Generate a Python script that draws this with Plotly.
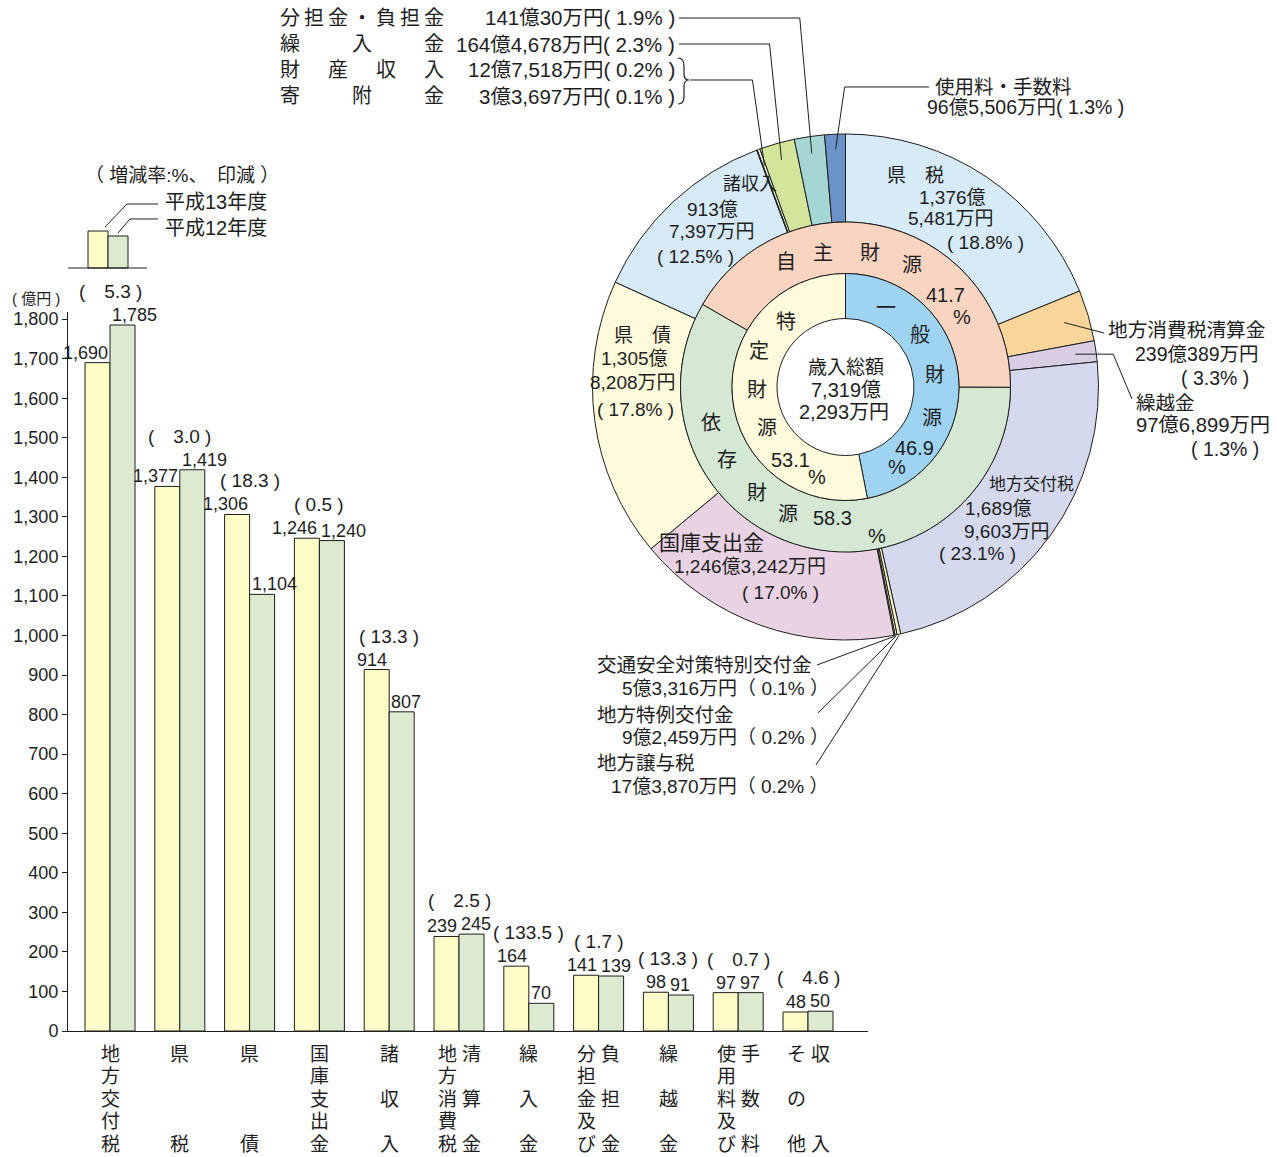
import math
import plotly.graph_objects as go

W, H = 1277, 1157

# ---------------- bar chart data ----------------
categories = ['地方交付税', '県税', '県債', '国庫支出金', '諸収入', '地方消費税清算金',
              '繰入金', '分担金及び負担金', '繰越金', '使用料及び手数料', 'その他収入']
values_h13 = [1690, 1377, 1306, 1246, 914, 239, 164, 141, 98, 97, 48]
values_h12 = [1785, 1419, 1104, 1240, 807, 245, 70, 139, 91, 97, 50]
labels_h13 = ['1,690', '1,377', '1,306', '1,246', '914', '239', '164', '141', '98', '97', '48']
labels_h12 = ['1,785', '1,419', '1,104', '1,240', '807', '245', '70', '139', '91', '97', '50']
change_rates = ['(　5.3 )', '(　3.0 )', '( 18.3 )', '( 0.5 )', '( 13.3 )', '(　2.5 )',
                '( 133.5 )', '( 1.7 )', '( 13.3 )', '(　0.7 )', '(　4.6 )']
category_columns = [
    ['地方交付税'], ['県　　　税'], ['県　　　債'], ['国庫支出金'], ['諸　収　入'],
    ['地方消費税', '清　算　金'], ['繰　入　金'], ['分担金及び', '負　担　金'],
    ['繰　越　金'], ['使用料及び', '手　数　料'], ['そ　の　他', '収　　　入'],
]
y_ticks = list(range(0, 1801, 100))
y_tick_labels = [f'{v:,}' for v in y_ticks]
series_names = ['平成13年度', '平成12年度']

# ---------------- donut data (万円) ----------------
revenue_items = ['県税', '地方消費税清算金', '繰越金', '地方交付税', '地方譲与税', '地方特例交付金',
                 '交通安全対策特別交付金', '国庫支出金', '県債', '諸収入', '寄附金', '財産収入',
                 '繰入金', '分担金・負担金', '使用料・手数料']
revenue_amounts = [13765481, 2390389, 976899, 16899603, 173870, 92459, 53316, 12463242,
                   13058208, 9137397, 33697, 127518, 1644678, 1410030, 965506]
source_groups = ['自主財源', '依存財源']
source_shares = [41.7, 58.3]
usage_groups = ['一般財源', '特定財源']
usage_shares = [46.9, 53.1]

# ---------------- styles ----------------
revenue_colors = ['#d6eaf8', '#f8d69b', '#d8cde3', '#d4d9ee', '#f7f1c8', '#fbf5cf', '#f2efd2',
                  '#e9d2e4', '#fefbdd', '#d6eaf8', '#e9f0d9', '#e9f0d9', '#d3e49b', '#a5d6d4', '#6c93c8']
source_colors = ['#f9d5c1', '#d4e8d4']
usage_colors = ['#9fd3f2', '#fefadb']
YELLOW, GREEN = '#fdfbc6', '#dcebd0'
INK = '#1e1e1e'
FONT = 'Liberation Sans, Noto Sans CJK JP, sans-serif'
NARROW = 'Liberation Sans Narrow, Liberation Sans, Noto Sans CJK JP, sans-serif'


def px(x):
    return x / W


def py(y):
    return 1 - y / H


anns = []
shapes = []


def txt(s, x, y, size=19, anchor='center', family=NARROW):
    anns.append(dict(text=s, x=px(x), y=py(y), xref='paper', yref='paper', showarrow=False,
                     xanchor=anchor, yanchor='middle',
                     font=dict(size=size, family=family, color=INK)))


def path(pts, width=1):
    d = 'M ' + ' L '.join(f'{px(x):.5f},{py(y):.5f}' for x, y in pts)
    shapes.append(dict(type='path', path=d, xref='paper', yref='paper',
                       line=dict(color=INK, width=width)))


fig = go.Figure()

# ---------------- bars ----------------
X0, X1 = 68, 868
YB, YT = 1031, 312
xs = list(range(len(categories)))
step = 69.8
xr = [(X0 - 110) / step, (X1 - 110) / step]
bw = 25 / step
yscale = 0.3955
yr = [0, (YB - YT) / yscale]

fig.add_trace(go.Bar(x=xs, y=values_h13, name=series_names[0], width=bw, offset=-bw,
                     marker=dict(color=YELLOW, line=dict(color=INK, width=1)),
                     hovertext=categories, xaxis='x', yaxis='y'))
fig.add_trace(go.Bar(x=xs, y=values_h12, name=series_names[1], width=bw, offset=0,
                     marker=dict(color=GREEN, line=dict(color=INK, width=1)),
                     hovertext=categories, xaxis='x', yaxis='y'))

for i in xs:
    anns.append(dict(text=labels_h13[i], x=i, y=values_h13[i], xref='x', yref='y',
                     showarrow=False, xanchor='right', yanchor='bottom', yshift=-2,
                     font=dict(size=18, family=NARROW, color=INK)))
    anns.append(dict(text=labels_h12[i], x=i, y=values_h12[i], xref='x', yref='y',
                     showarrow=False, xanchor='left', yanchor='bottom', yshift=-2,
                     font=dict(size=18, family=NARROW, color=INK)))
    anns.append(dict(text=change_rates[i], x=i, y=max(values_h13[i], values_h12[i]),
                     xref='x', yref='y', showarrow=False, xanchor='center', yanchor='bottom',
                     yshift=21, font=dict(size=19, family=FONT, color=INK)))
    cols = category_columns[i]
    offs = [0] if len(cols) == 1 else [-12, 12]
    for col, off in zip(cols, offs):
        for r, ch in enumerate(col):
            if ch == '　':
                continue
            anns.append(dict(text=ch, x=i, y=py(1054 + r * 22.5), xref='x', yref='paper',
                             xshift=off, showarrow=False, xanchor='center', yanchor='middle',
                             font=dict(size=19, family=FONT, color=INK)))

txt('( 億円 )', 36, 298, size=15, family=FONT)

# legend inset
txt('（ 増減率:%、　印減 ）', 182, 176, size=19, family=FONT)
txt(series_names[0], 163, 202, size=20, anchor='left', family=FONT)
txt(series_names[1], 163, 228, size=20, anchor='left', family=FONT)
shapes.append(dict(type='rect', xref='paper', yref='paper', x0=px(88), x1=px(108), y0=py(268), y1=py(231),
                   fillcolor=YELLOW, line=dict(color=INK, width=1)))
shapes.append(dict(type='rect', xref='paper', yref='paper', x0=px(108), x1=px(128), y0=py(268), y1=py(236),
                   fillcolor=GREEN, line=dict(color=INK, width=1)))
path([(68, 268), (147, 268)])
path([(158, 204), (127, 204), (105, 227)])
path([(158, 219), (130, 219), (118, 233)])

# ---------------- donut ----------------
CX, CY = 845.5, 387
R_OUT, R_MID, R_IN, R_HOLE = 253, 165, 113.5, 68.5


def dom(r):
    return dict(x=[px(CX - r), px(CX + r)], y=[py(CY + r), py(CY - r)])


fig.add_trace(go.Pie(labels=revenue_items, values=revenue_amounts, sort=False, direction='clockwise',
                     rotation=0, hole=R_MID / R_OUT, domain=dom(R_OUT), textinfo='none',
                     marker=dict(colors=revenue_colors, line=dict(color=INK, width=1))))
fig.add_trace(go.Pie(labels=source_groups, values=source_shares, sort=False, direction='clockwise',
                     rotation=-60, hole=R_IN / R_MID, domain=dom(R_MID), textinfo='none',
                     marker=dict(colors=source_colors, line=dict(color=INK, width=1))))
fig.add_trace(go.Pie(labels=usage_groups, values=usage_shares, sort=False, direction='clockwise',
                     rotation=0, hole=R_HOLE / R_IN, domain=dom(R_IN), textinfo='none',
                     marker=dict(colors=usage_colors, line=dict(color=INK, width=1))))

total = sum(revenue_amounts)


def slice_point(name, r):
    k = revenue_items.index(name)
    frac = (sum(revenue_amounts[:k]) + revenue_amounts[k] / 2) / total
    a = 2 * math.pi * frac
    return (CX + r * math.sin(a), CY - r * math.cos(a))


# center
txt('歳入総額', 846, 368, 19, family=FONT)
txt('7,319億', 846, 390, 20)
txt('2,293万円', 844, 412, 20)

for ch, x, y in [('自', 786, 262), ('主', 823, 253), ('財', 870, 253), ('源', 912, 265),
                 ('依', 711, 423), ('存', 727, 460), ('財', 757, 493), ('源', 788, 514),
                 ('一', 886, 308), ('般', 920, 335), ('財', 935, 375), ('源', 932, 418),
                 ('特', 786, 322), ('定', 759, 351), ('財', 757, 390), ('源', 767, 428)]:
    txt(ch, x, y, 20, family=FONT)
txt('41.7', 945, 295, 20)
txt('%', 962, 317, 20)
txt('58.3', 832, 518, 20)
txt('%', 877, 536, 20)
txt('46.9', 914, 448, 20)
txt('%', 897, 467, 20)
txt('53.1', 790, 460, 20)
txt('%', 817, 477, 20)

for s, x, y, sz in [('県　税', 915, 176, 19), ('1,376億', 952, 197, 19), ('5,481万円', 951, 218, 19),
                    ('( 18.8% )', 985, 242, 19),
                    ('諸収入', 750, 184, 18), ('913億', 712, 209, 19), ('7,397万円', 712, 231, 19),
                    ('( 12.5% )', 695, 257, 19),
                    ('県　債', 642, 335, 19), ('1,305億', 634, 359, 19), ('8,208万円', 633, 382, 19),
                    ('( 17.8% )', 635, 410, 19),
                    ('国庫支出金', 711, 542, 21), ('1,246億3,242万円', 750, 566, 19),
                    ('( 17.0% )', 780, 592, 19),
                    ('地方交付税', 1031, 485, 17), ('1,689億', 998, 508, 19), ('9,603万円', 1007, 531, 19),
                    ('( 23.1% )', 977, 553, 19)]:
    txt(s, x, y, sz)

# right labels
txt('地方消費税清算金', 1106, 330, 19.7, anchor='left')
txt('239億389万円', 1197, 354, 19.5)
txt('( 3.3% )', 1215, 378, 19.5)
txt('繰越金', 1134, 403, 19.5, anchor='left')
txt('97億6,899万円', 1134, 425, 20.3, anchor='left')
txt('( 1.3% )', 1225, 449, 19.5)
ex, ey = slice_point('地方消費税清算金', 228)
path([(ex, ey), (1104, 333)])
ex, ey = slice_point('繰越金', 232)
path([(ex, ey), (ex + 38, ey), (1132, 399)])

# top right label
txt('使用料・手数料', 933, 87, 19.5, anchor='left')
txt('96億5,506万円( 1.3% )', 925, 107, 19.5, anchor='left')
ex, ey = slice_point('使用料・手数料', 238)
path([(929, 87), (ex + 9, 87), (ex, ey)])

# top left block
rows = [('分担金・負担金', [0, 1, 2, 3, 4, 5, 6]), ('繰入金', [0, 3, 6]),
        ('財産収入', [0, 2, 4, 6]), ('寄附金', [0, 3, 6])]
amount_texts = ['141億30万円( 1.9% )', '164億4,678万円( 2.3% )',
                '12億7,518万円( 0.2% )', '3億3,697万円( 0.1% )']
for r, ((name, cells), amt) in enumerate(zip(rows, amount_texts)):
    yy = 18 + r * 26
    for ch, c in zip(name, cells):
        txt(ch, 290 + c * 24, yy, 20, family=FONT)
    txt(amt, 677, yy, 20.5, anchor='right')
for name, y0, xstart in [('分担金・負担金', 18, 679), ('繰入金', 44, 679), ('財産収入', 80, 690)]:
    ex, ey = slice_point(name, 236)
    path([(xstart, y0), (ex - 12, y0), (ex, ey)])
shapes.append(dict(type='path', xref='paper', yref='paper', line=dict(color=INK, width=1.2),
                   path=(f'M {px(678)},{py(58)} Q {px(684)},{py(58)} {px(684)},{py(66)} '
                         f'L {px(684)},{py(74)} Q {px(684)},{py(80)} {px(689)},{py(80)} '
                         f'Q {px(684)},{py(80)} {px(684)},{py(86)} L {px(684)},{py(97)} '
                         f'Q {px(684)},{py(104)} {px(678)},{py(104)}')))

# bottom left labels
txt('交通安全対策特別交付金', 595, 665, 19.5, anchor='left')
txt('5億3,316万円（ 0.1% ）', 831, 688, 19, anchor='right')
txt('地方特例交付金', 595, 715, 19.5, anchor='left')
txt('9億2,459万円（ 0.2% ）', 831, 737, 19, anchor='right')
txt('地方譲与税', 595, 763, 19.5, anchor='left')
txt('17億3,870万円（ 0.2% ）', 831, 787, 19, anchor='right')
for name, (lx, ly) in [('交通安全対策特別交付金', (817, 665)), ('地方特例交付金', (818, 713)),
                       ('地方譲与税', (816, 765))]:
    ex, ey = slice_point(name, R_OUT + 1)
    path([(lx, ly), (ex, ey)])

fig.update_layout(
    width=W, height=H, autosize=False, margin=dict(l=0, r=0, t=0, b=0, pad=0, autoexpand=False),
    paper_bgcolor='white', plot_bgcolor='white', showlegend=False, barmode='overlay',
    xaxis=dict(domain=[px(X0), px(X1)], range=xr, showline=True, linecolor=INK, linewidth=1,
               showticklabels=False, ticks='', showgrid=False, zeroline=False, fixedrange=True),
    yaxis=dict(domain=[py(YB), py(YT)], range=yr, tickvals=y_ticks, ticktext=y_tick_labels,
               ticks='outside', ticklen=5, tickcolor=INK, showline=True, linecolor=INK, linewidth=1,
               showgrid=False, zeroline=False, tickfont=dict(size=18, family=FONT, color=INK),
               fixedrange=True),
    annotations=anns, shapes=shapes,
)

fig.write_html('out.html', config={'responsive': False, 'displayModeBar': False})
